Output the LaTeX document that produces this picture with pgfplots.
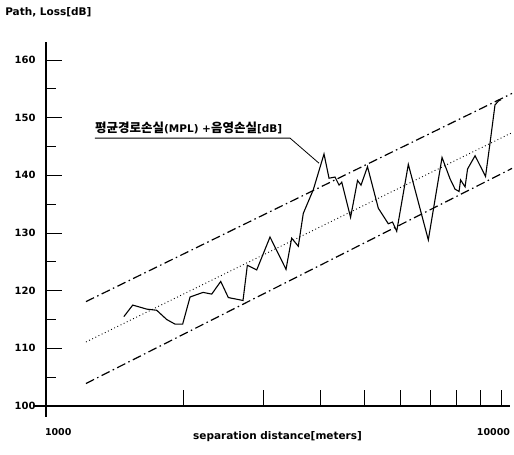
\documentclass[border=0pt]{standalone}
\usepackage{pgfplots}
\pgfplotsset{compat=1.18}
\usepackage{fontspec}
\setmainfont{DejaVu Sans}
\newfontfamily\kr{Noto Sans CJK KR}
\begin{document}
\begin{tikzpicture}
\begin{axis}[
  scale only axis, width=464pt, height=363.9pt,
  xmode=log, xmin=1000, xmax=10466, ymin=100, ymax=163.1,
  axis lines=left, axis line style={draw=none},
  clip=false,
  tick align=inside,
  xtick={1000,2000,3000,4000,5000,6000,7000,8000,9000,10000},
  xticklabels={{\hbox to 0pt{\kern-1pt 1000\hss}},{},{},{},{},{},{},{},{},{\hbox to 18pt{\hss 10000}}},
  xminorticks=false,
  ytick={100,110,120,130,140,150,160},
  minor ytick={105,115,125,135,145,155},
  major tick length=16pt, minor tick length=10pt,
  every tick/.style={black, line width=0.9pt},
  /pgf/number format/assume math mode=true,
  xticklabel style={anchor=north, yshift=-19pt, font=\bfseries\fontsize{9.5}{10}\selectfont},
  yticklabel style={xshift=-7pt, font=\bfseries\fontsize{10}{11}\selectfont},
]
\coordinate (O) at (axis cs:1000,100);
% axis lines
\draw[line width=1.2pt] (axis cs:936,100) -- (axis cs:10466,100);
\draw[line width=1.2pt] (axis cs:1000,98.1) -- (axis cs:1000,163.1);
% bounds
\addplot[black, line width=1.2pt, dash pattern=on 9pt off 3.5pt on 1.5pt off 3.5pt] coordinates {(1224,118.1) (10573,154.2)};
\addplot[black, line width=0.9pt, dash pattern=on 0.9pt off 2.6pt] coordinates {(1224,111.1) (10573,147.4)};
\addplot[black, line width=1.2pt, dash pattern=on 9pt off 3.5pt on 1.5pt off 3.5pt] coordinates {(1224,103.9) (10573,141.2)};
% measured
\addplot[black, line width=1.1pt, mark=none] coordinates {
(1483,115.5) (1551,117.5) (1665,116.8) (1751,116.6) (1842,115.0) (1921,114.2) (1997,114.2)
(2073,118.9) (2214,119.7) (2313,119.4) (2421,121.6) (2516,118.8) (2710,118.3) (2770,124.4)
(2905,123.6) (3107,129.3) (3369,123.7) (3467,129.1) (3585,127.7) (3677,133.4) (3868,137.5)
(4083,143.7) (4188,139.5) (4317,139.7) (4406,138.3) (4467,138.8) (4670,132.7) (4838,139.1)
(4924,138.3) (5088,141.5) (5374,134.3) (5653,131.6) (5775,131.9) (5899,130.3) (6256,141.9)
(6922,128.8) (7420,143.1) (7727,139.4) (7925,137.6) (8087,137.2) (8149,139.2) (8337,138.0)
(8443,141.1) (8770,143.4) (9246,139.8) (9459,145.6) (9700,152.2) (9874,152.9) (10000,153.1)
};
% annotation
\node[anchor=base west, inner sep=0pt, font=\bfseries\fontsize{10.5}{12}\selectfont] at (axis cs:1281,147.34)
  {{\kr\fontsize{12.5}{13}\selectfont 평균경로손실}(MPL) +{\kr\fontsize{12.5}{13}\selectfont 음영손실}[dB]};
\draw[line width=0.8pt] (axis cs:1281,146.45) -- (axis cs:3438,146.45) -- (axis cs:3981,142.1);
% labels
\node[anchor=west, inner sep=0pt, font=\bfseries\fontsize{10.5}{12}\selectfont] at (axis cs:813,168.2) {Path, Loss[dB]};
\node[inner sep=0pt, font=\bfseries\fontsize{10.5}{12}\selectfont] at (axis cs:3228,94.62) {separation distance[meters]};
\end{axis}
\path ([xshift=-46pt,yshift=-49pt]O) rectangle ([xshift=468pt,yshift=406pt]O);
\end{tikzpicture}
\end{document}
